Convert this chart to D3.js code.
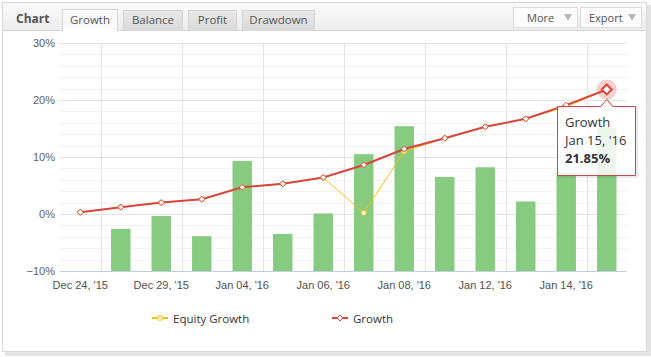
<!DOCTYPE html>
<html><head><meta charset="utf-8">
<script src="https://cdn.jsdelivr.net/npm/d3@7"></script>
<style>
html,body{margin:0;padding:0;background:#fff;}
svg{display:block;}
</style></head>
<body>
<svg id="c" width="651" height="357"></svg>
<script>
// ---- data ----
const categories = ["Dec 24, '15","Dec 28, '15","Dec 29, '15","Dec 31, '15","Jan 04, '16","Jan 05, '16","Jan 06, '16","Jan 07, '16","Jan 08, '16","Jan 11, '16","Jan 12, '16","Jan 13, '16","Jan 14, '16","Jan 15, '16"];
const growth = [0.3, 1.2, 2.0, 2.6, 4.7, 5.3, 6.4, 8.6, 11.4, 13.3, 15.3, 16.7, 19.1, 21.85];
const equityGrowth = [0.3, 1.2, 2.0, 2.6, 4.7, 5.3, 6.4, 0.2, 11.0, 13.3, 15.3, 16.7, 18.8, 21.85];
const dailyBars = [null, -2.6, -0.35, -3.9, 9.3, -3.5, 0.1, 10.5, 15.4, 6.5, 8.2, 2.2, 7.2, 15.1];
const yTicks = [-10, 0, 10, 20, 30];
const tabs = ["Growth", "Balance", "Profit", "Drawdown"];
const legendItems = ["Equity Growth", "Growth"];

const svg = d3.select("#c");
const FONT = "'Open Sans', 'Segoe UI', sans-serif";
const AFONT = "'Liberation Sans', Arial, sans-serif";

// ---- frame ----
const defs = svg.append("defs");
const hg = defs.append("linearGradient").attr("id","hg").attr("x1",0).attr("y1",0).attr("x2",0).attr("y2",1);
hg.append("stop").attr("offset","0%").attr("stop-color","#fafafa");
hg.append("stop").attr("offset","100%").attr("stop-color","#ececec");
const tg = defs.append("linearGradient").attr("id","tg").attr("x1",0).attr("y1",0).attr("x2",0).attr("y2",1);
tg.append("stop").attr("offset","0%").attr("stop-color","#e9e9e9");
tg.append("stop").attr("offset","100%").attr("stop-color","#d9d9d9");

// shadow
svg.append("rect").attr("x",5).attr("y",5).attr("width",646).attr("height",351).attr("fill","#e4e4e4");
svg.append("rect").attr("x",2.5).attr("y",2.5).attr("width",644).attr("height",349).attr("fill","#fff").attr("stroke","#d8d8d8");
svg.append("rect").attr("x",3).attr("y",3).attr("width",643).attr("height",28).attr("fill","url(#hg)");
svg.append("line").attr("x1",3).attr("x2",646).attr("y1",30.5).attr("y2",30.5).attr("stroke","#d6d6d6");

svg.append("text").attr("x",16).attr("y",23).text("Chart")
  .attr("font-family",FONT).attr("font-size",12).attr("font-weight","bold").attr("fill","#555");

const tabX = [62, 123, 188, 242];
const tabW = [56, 60, 49, 73];
tabs.forEach((t,i)=>{
  const active = i===0;
  const g = svg.append("g");
  g.append("path")
    .attr("d", `M${tabX[i]+0.5},31 V${active?9.5:10.5} H${tabX[i]+tabW[i]-0.5} V31`)
    .attr("fill", active ? "#f8f8f8" : "url(#tg)")
    .attr("stroke", active ? "#d6d6d6" : "#d2d2d2");
  if(active) g.append("rect").attr("x",tabX[i]+1).attr("y",29).attr("width",tabW[i]-2).attr("height",3).attr("fill","#fff");
  g.append("text").attr("x",tabX[i]+tabW[i]/2).attr("y",24).attr("text-anchor","middle").text(t)
    .attr("font-family",FONT).attr("font-size",11.5).attr("fill","#555");
});

// buttons
[["More",513,64,527],["Export",580,61,589]].forEach(([t,x,w,txx])=>{
  svg.append("rect").attr("x",x+0.5).attr("y",7.5).attr("width",w).attr("height",20).attr("fill","#fbfbfb").attr("stroke","#dcdcdc");
  svg.append("text").attr("x",txx).attr("y",22).text(t).attr("font-family",FONT).attr("font-size",11).attr("fill","#555");
  const tx = x+w-9;
  svg.append("path").attr("d",`M${tx-4},14 L${tx+4},14 L${tx},20.5 Z`).attr("fill","#b5b5b5");
});

// ---- scales ----
const plot = {left:60, right:627, top:43, bottom:271};
const x = d3.scaleBand().domain(categories).range([plot.left, plot.right]).padding(0);
const bw = x.bandwidth();
const cx = c => x(c) + bw/2;
const y = d3.scaleLinear().domain([-10, 30]).range([plot.bottom, plot.top]);

// grid
const grid = svg.append("g");
d3.range(-10, 31, 2).forEach(v=>{
  if (v % 10 !== 0) grid.append("line").attr("x1",plot.left).attr("x2",plot.right)
    .attr("y1",Math.round(y(v))+0.5).attr("y2",Math.round(y(v))+0.5).attr("stroke","#f2f2f2");
});
yTicks.forEach(v=>{
  grid.append("line").attr("x1",plot.left).attr("x2",plot.right)
    .attr("y1",Math.round(y(v))+0.5).attr("y2",Math.round(y(v))+0.5).attr("stroke","#e3e3e3");
});
categories.forEach((c,i)=>{
  if (i % 2 === 0 && i+1 < categories.length) {
    const xv = Math.round(x(c)+bw)+0.5;
    grid.append("line").attr("x1",xv).attr("x2",xv).attr("y1",plot.top).attr("y2",plot.bottom).attr("stroke","#e3e3e3");
  }
});

// y axis labels
const yAxis = d3.axisLeft(y).tickValues(yTicks).tickSize(0).tickPadding(5)
  .tickFormat(d => (d<0 ? "\u2212" + Math.abs(d) : d) + "%");
const ya = svg.append("g").attr("transform",`translate(${plot.left},0)`).call(yAxis);
ya.select(".domain").remove();
ya.selectAll("text").attr("font-family",AFONT).attr("font-size",11).attr("fill","#606060").attr("dy","0.35em");

// bars
const barW = bw*0.48;
svg.append("g").selectAll("rect").data(dailyBars.map((v,i)=>({v,c:categories[i]})).filter(d=>d.v!==null))
  .join("rect")
  .attr("x", d=>cx(d.c)-barW/2).attr("width",barW)
  .attr("y", d=>y(d.v)).attr("height", d=>y(-10)-y(d.v))
  .attr("fill","#86cb80");

// x axis
const xAxis = d3.axisBottom(x).tickValues(categories.filter((c,i)=>i%2===0)).tickSize(0).tickPadding(10);
const xa = svg.append("g").attr("transform",`translate(0,${plot.bottom})`).call(xAxis);
xa.select(".domain").remove();
xa.selectAll("text").attr("font-family",AFONT).attr("font-size",11).attr("fill","#505050");
svg.append("line").attr("x1",plot.left).attr("x2",plot.right).attr("y1",plot.bottom+0.5).attr("y2",plot.bottom+0.5).attr("stroke","#c0cfdf");

// lines
const line = d3.line().x((d,i)=>cx(categories[i])).y(d=>y(d));
const YEL = "#f2c417", RED = "#d9453d";
svg.append("path").datum(equityGrowth).attr("d",line).attr("fill","none").attr("stroke",YEL).attr("stroke-width",1);
svg.append("g").selectAll("circle").data(equityGrowth).join("circle")
  .attr("cx",(d,i)=>cx(categories[i])).attr("cy",d=>y(d)).attr("r",2.5)
  .attr("fill","#fff6c8").attr("stroke",YEL).attr("stroke-width",1);
svg.append("path").datum(growth).attr("d",line).attr("fill","none").attr("stroke",RED).attr("stroke-width",2);
const diamond = (px,py,r) => `M${px},${py-r} L${px+r},${py} L${px},${py+r} L${px-r},${py} Z`;
svg.append("g").selectAll("path").data(growth.slice(0,-1)).join("path")
  .attr("d",(d,i)=>diamond(cx(categories[i]), y(d), 3))
  .attr("fill","#fff").attr("stroke",RED).attr("stroke-width",1);

// hover marker
const last = growth.length-1;
const hx = cx(categories[last]), hy = y(growth[last]);
svg.append("circle").attr("cx",hx).attr("cy",hy).attr("r",10).attr("fill",RED).attr("fill-opacity",0.25);
svg.append("path").attr("d",diamond(hx,hy,5)).attr("fill","#fff").attr("stroke",RED).attr("stroke-width",2);

// tooltip
const tt = {x:557.5, y:106.5, w:78, h:69};
const tp = `M${tt.x},${tt.y} H${hx-6} L${hx},${hy+10} L${hx+6},${tt.y} H${tt.x+tt.w} V${tt.y+tt.h} H${tt.x} Z`;
svg.append("path").attr("d",tp).attr("transform","translate(1,1)").attr("fill","none").attr("stroke","#000").attr("stroke-opacity",0.08).attr("stroke-width",3);
svg.append("path").attr("d",tp).attr("fill","#fff").attr("fill-opacity",0.85).attr("stroke","#c9464a").attr("stroke-width",1);
const tg2 = svg.append("g").attr("font-family",FONT).attr("font-size",13).attr("fill","#333");
tg2.append("text").attr("x",565).attr("y",127).text("Growth");
tg2.append("text").attr("x",565).attr("y",145).text(categories[last]);
tg2.append("text").attr("x",565).attr("y",163).attr("font-weight","bold").text(growth[last].toFixed(2)+"%");

// legend
const lg = svg.append("g").attr("font-family",FONT).attr("font-size",11.5).attr("fill","#333");
[[legendItems[0],152,YEL,"circle"],[legendItems[1],332,RED,"diamond"]].forEach(([t,lx,col,sym])=>{
  lg.append("line").attr("x1",lx).attr("x2",lx+16).attr("y1",318).attr("y2",318).attr("stroke",col).attr("stroke-width",2);
  if (sym==="circle") lg.append("circle").attr("cx",lx+8).attr("cy",318).attr("r",2.5).attr("fill","#fff6c8").attr("stroke",col);
  else lg.append("path").attr("d",diamond(lx+8,318,3)).attr("fill","#fff").attr("stroke",col);
  lg.append("text").attr("x",lx+21).attr("y",322.5).text(t);
});
</script>
</body></html>
